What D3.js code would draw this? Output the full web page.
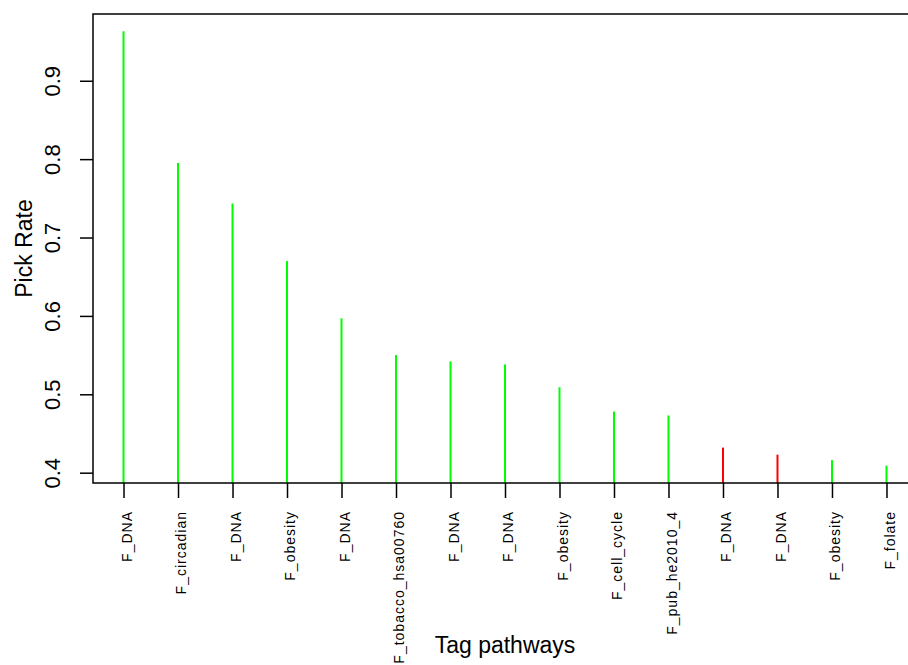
<!DOCTYPE html>
<meta charset="utf-8">
<style>
body { margin: 0; background: #fff; }
text { font-family: "Liberation Sans", Arial, sans-serif; fill: #000; }
</style>
<svg id="svg" width="908" height="665"></svg>
<script src="https://d3js.org/d3.v7.min.js"></script>
<script>
// tag pathways in plotted order
var pathways = ["F_DNA", "F_circadian", "F_DNA", "F_obesity", "F_DNA",
  "F_tobacco_hsa00760", "F_DNA", "F_DNA", "F_obesity", "F_cell_cycle",
  "F_pub_he2010_4", "F_DNA", "F_DNA", "F_obesity", "F_folate"];
var pickRate = [0.963, 0.795, 0.7435, 0.670, 0.597, 0.550, 0.542, 0.538,
  0.509, 0.478, 0.473, 0.432, 0.423, 0.416, 0.409];
var barColor = ["lime", "lime", "lime", "lime", "lime", "lime", "lime", "lime",
  "lime", "lime", "lime", "red", "red", "lime", "lime"];
var yTicks = [0.4, 0.5, 0.6, 0.7, 0.8, 0.9];

var svg = d3.select("svg"),
    plotLeft = 93, plotRight = 917, plotTop = 14, plotBottom = 483;

// R style 4% axis extension
var n = pickRate.length;
var x = d3.scaleLinear()
    .domain([1 - 0.04 * (n - 1), n + 0.04 * (n - 1)])
    .range([plotLeft, plotRight]);
var yMin = d3.min(pickRate), yMax = d3.max(pickRate), pad = 0.04 * (yMax - yMin);
var y = d3.scaleLinear()
    .domain([yMin - pad, yMax + pad])
    .range([plotBottom, plotTop]);

// bars (type = "h")
svg.selectAll("line.bar")
  .data(pickRate)
  .enter().append("line")
    .attr("class", "bar")
    .attr("x1", function(d, i) { return x(i + 1); })
    .attr("x2", function(d, i) { return x(i + 1); })
    .attr("y1", y(y.domain()[0]))
    .attr("y2", function(d) { return y(d); })
    .attr("stroke", function(d, i) { return barColor[i]; })
    .attr("stroke-width", 2);

// box
svg.append("rect")
    .attr("x", plotLeft).attr("y", plotTop)
    .attr("width", plotRight - plotLeft).attr("height", plotBottom - plotTop)
    .attr("fill", "none").attr("stroke", "#000").attr("stroke-width", 1.5);

// x axis
var gx = svg.append("g")
    .attr("transform", "translate(0," + plotBottom + ")")
    .call(d3.axisBottom(x)
      .tickValues(d3.range(1, n + 1))
      .tickSize(15)
      .tickFormat(function(d) { return pathways[d - 1]; }));
gx.select(".domain").remove();
gx.selectAll(".tick line").attr("stroke", "#000").attr("stroke-width", 1.5);
gx.selectAll(".tick text")
    .attr("transform", "translate(3,28) rotate(-90)")
    .attr("x", 0).attr("y", 0).attr("dy", "0.35em")
    .attr("text-anchor", "end")
    .style("font-size", "14px")
    .style("letter-spacing", "1px")
    .style("font-family", "'Liberation Sans', Arial, sans-serif")
    .attr("fill", "#000");

// y axis
var gy = svg.append("g")
    .attr("transform", "translate(" + plotLeft + ",0)")
    .call(d3.axisLeft(y).tickValues(yTicks).tickSize(13)
      .tickFormat(d3.format(".1f")));
gy.select(".domain").remove();
gy.selectAll(".tick line").attr("stroke", "#000").attr("stroke-width", 1.5);
gy.selectAll(".tick text")
    .attr("x", 0).attr("dy", 0)
    .attr("transform", "translate(-33,0) rotate(-90)")
    .attr("text-anchor", "middle")
    .style("font-size", "22px")
    .style("font-family", "'Liberation Sans', Arial, sans-serif")
    .attr("fill", "#000");

// axis titles
svg.append("text")
    .attr("x", (plotLeft + plotRight) / 2).attr("y", 653)
    .attr("text-anchor", "middle")
    .style("font-size", "23px")
    .text("Tag pathways");
svg.append("text")
    .attr("transform", "translate(32," + ((plotTop + plotBottom) / 2) + ") rotate(-90)")
    .attr("text-anchor", "middle")
    .style("font-size", "23px")
    .text("Pick Rate");
</script>
